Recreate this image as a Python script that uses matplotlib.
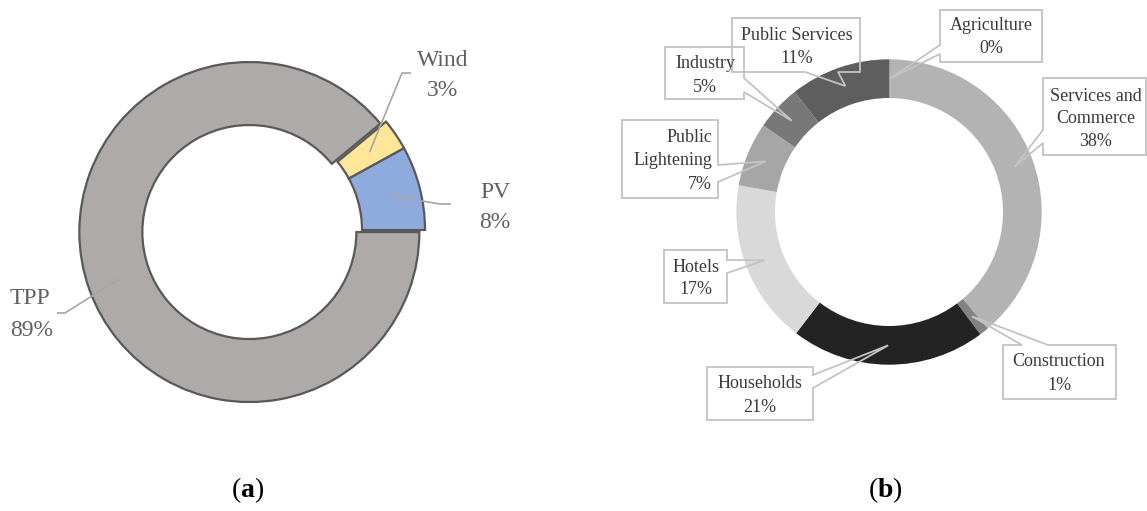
import numpy as np
import matplotlib
matplotlib.use("Agg")
import matplotlib.pyplot as plt
from matplotlib.patches import Polygon

# ---------------- data ----------------
# (a) generation mix
gen_sources = ["PV", "Wind", "TPP"]
gen_share = [8, 3, 89]
gen_colors = ["#8FAADC", "#FFE699", "#AEAAAA"]

# (b) consumption by sector (clockwise from top)
sectors = ["Agriculture", "Services and\nCommerce", "Construction", "Households",
           "Hotels", "Public\nLightening", "Industry", "Public Services"]
sector_share = [0.2, 38.6, 1.0, 20.6, 17.4, 6.8, 4.8, 10.6]
sector_pct_label = [0, 38, 1, 21, 17, 7, 5, 11]
sector_colors = ["#A0A0A0", "#B3B3B3", "#828282", "#232323",
                 "#D9D9D9", "#A6A6A6", "#787878", "#5E5E5E"]

# ---------------- layout ----------------
W, H = 1147, 511
def Y(y):
    return H - y

plt.rcParams['font.family'] = ['Liberation Serif', 'DejaVu Serif']
plt.rcParams['mathtext.fontset'] = 'custom'
plt.rcParams['mathtext.rm'] = 'Liberation Serif'
plt.rcParams['mathtext.bf'] = 'Liberation Serif:bold'

fig = plt.figure(figsize=(W / 100, H / 100), dpi=100)
ax = fig.add_axes([0, 0, 1, 1])

# ---- (a) ----
wa, _ = ax.pie(gen_share, colors=gen_colors, startangle=0, counterclock=True,
               radius=170, center=(255, Y(230)), explode=[0, 0, 6],
               wedgeprops=dict(width=63, edgecolor="#595959", linewidth=1.6))

left_layout = {
    "PV":   dict(elbow=(440, 204), end=(451, 204), tx=495, ty=(192, 222), ha="center"),
    "Wind": dict(elbow=(402, 73), end=(411, 73), tx=443, ty=(60, 90), ha="center"),
    "TPP":  dict(elbow=(65, 313), end=(57, 313), tx=10, ty=(299, 330), ha="left"),
}
for w, name, val in zip(wa, gen_sources, gen_share):
    lay = left_layout[name]
    th = np.deg2rad(0.5 * (w.theta1 + w.theta2))
    rm = w.r - w.width / 2
    tip = (w.center[0] + rm * np.cos(th), w.center[1] + rm * np.sin(th))
    xs = [tip[0], lay["elbow"][0], lay["end"][0]]
    ys = [tip[1], Y(lay["elbow"][1]), Y(lay["end"][1])]
    ax.plot(xs, ys, color="#A6A6A6", lw=1.2, solid_capstyle="butt", zorder=5)
    ax.text(lay["tx"], Y(lay["ty"][0]), name, ha=lay["ha"], va="center",
            fontsize=17, color="#606060")
    ax.text(lay["tx"], Y(lay["ty"][1]), f"{val}%", ha=lay["ha"], va="center",
            fontsize=17, color="#606060")

# ---- (b) ----
wb, _ = ax.pie(sector_share, colors=sector_colors, startangle=90, counterclock=False,
               radius=152.7, center=(889, Y(212)),
               wedgeprops=dict(width=38.7, linewidth=0))

right_layout = [
    dict(box=(940, 10, 1042, 62), edge="left", b=(45, 54), tx=991, ha="center", y0=25, dy=23),
    dict(box=(1043, 78, 1146, 155), edge="left", b=(130, 143), tx=1096, ha="center", y0=96, dy=22.5),
    dict(box=(1003, 345, 1116, 399), edge="top", b=(1022, 1048), tx=1059, ha="center", y0=362, dy=24),
    dict(box=(707, 367, 813, 420), edge="right", b=(375, 388), tx=760, ha="center", y0=383, dy=24),
    dict(box=(664, 250, 727, 303), edge="right", b=(260, 273), tx=696, ha="center", y0=267, dy=23),
    dict(box=(622, 120, 718, 198), edge="right", b=(165, 182), tx=712, ha="right", y0=137, dy=23.5),
    dict(box=(665, 47, 744, 99), edge="right", b=(78, 92), tx=705, ha="center", y0=63, dy=24),
    dict(box=(732, 18, 860, 72), edge="bottom", b=(805, 838), tx=797, ha="center", y0=35, dy=23),
]

def callout_vertices(box, edge, b, tip):
    x0, y0, x1, y1 = box
    b1, b2 = b
    v = [(x0, y0)]
    if edge == "top":
        v += [(b1, y0), tip, (b2, y0)]
    v += [(x1, y0)]
    if edge == "right":
        v += [(x1, b1), tip, (x1, b2)]
    v += [(x1, y1)]
    if edge == "bottom":
        v += [(b2, y1), tip, (b1, y1)]
    v += [(x0, y1)]
    if edge == "left":
        v += [(x0, b2), tip, (x0, b1)]
    return [(px, Y(py)) for px, py in v]

for w, name, pct, lay in zip(wb, sectors, sector_pct_label, right_layout):
    th = np.deg2rad(0.5 * (w.theta1 + w.theta2))
    rm = w.r - w.width / 2
    tip_data = (w.center[0] + rm * np.cos(th), w.center[1] + rm * np.sin(th))
    tip_px = (tip_data[0], H - tip_data[1])
    verts = callout_vertices(lay["box"], lay["edge"], lay["b"], tip_px)
    ax.add_patch(Polygon(verts, closed=True, facecolor="none", edgecolor="#C3C3C3",
                         linewidth=1.3, zorder=5, joinstyle="miter"))
    lines = name.split("\n") + [f"{pct}%"]
    for i, line in enumerate(lines):
        ax.text(lay["tx"], Y(lay["y0"] + i * lay["dy"]), line, ha=lay["ha"], va="center",
                fontsize=13, color="#3A3A3A", zorder=6)

# ---- captions ----
ax.text(248, Y(490), r"($\mathbf{a}$)", ha="center", va="center", fontsize=20, color="black")
ax.text(885, Y(490), r"($\mathbf{b}$)", ha="center", va="center", fontsize=20, color="black")

ax.set_xlim(0, W)
ax.set_ylim(0, H)
ax.set_aspect("equal")
ax.axis("off")

fig.savefig("out.png", dpi=100)
